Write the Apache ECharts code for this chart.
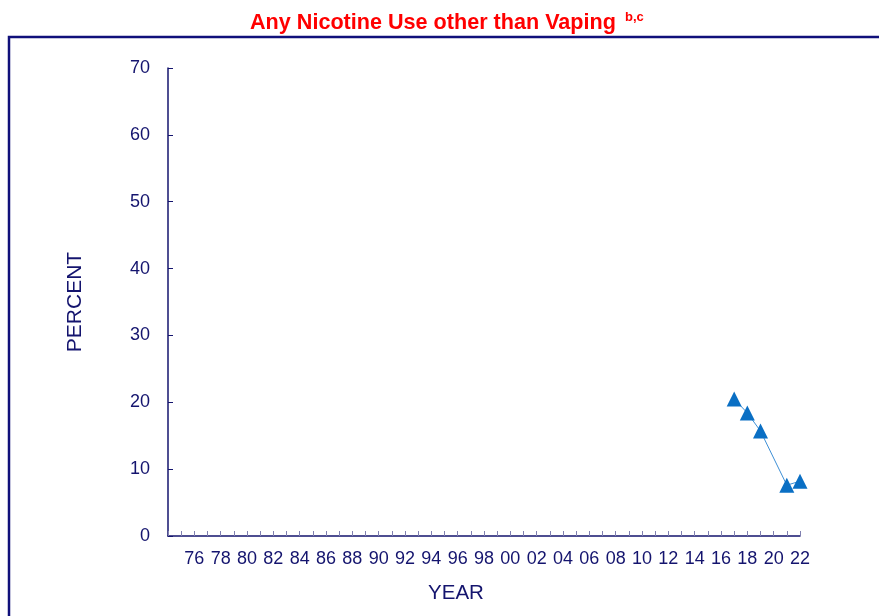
<!DOCTYPE html>
<html>
<head>
<meta charset="utf-8">
<script src="https://cdn.jsdelivr.net/npm/echarts@6/dist/echarts.min.js"></script>
<style>
  html, body { margin: 0; padding: 0; background: #fff; }
  #chart { width: 879px; height: 616px; }
</style>
</head>
<body>
<div id="chart"></div>
<script>
var years = [2017, 2018, 2019, 2021, 2022];
var percents = [20.5, 18.4, 15.7, 7.6, 8.2];
var yTicks = [0, 10, 20, 30, 40, 50, 60, 70];

var navy = '#14146e';
var chart = echarts.init(document.getElementById('chart'));

var points = years.map(function (y, i) { return [y, percents[i]]; });

var option = {
  backgroundColor: '#fff',
  textStyle: { fontFamily: 'Liberation Sans, Arial, sans-serif' },
  title: {
    text: '{t|Any Nicotine Use other than Vaping}{s|b,c}',
    left: 245,
    top: 6,
    textStyle: {
      rich: {
        t: { fontSize: 21.6, fontWeight: 'bold', color: '#ff0000', fontFamily: 'Liberation Sans' },
        s: { fontSize: 13, fontWeight: 'bold', color: '#ff0000', fontFamily: 'Liberation Sans', verticalAlign: 'top', padding: [0, 0, 12, 9] }
      }
    }
  },
  graphic: [{
    type: 'rect',
    shape: { x: 9, y: 37, width: 900, height: 620 },
    style: { fill: 'none', stroke: '#10107a', lineWidth: 2.5 },
    silent: true
  }],
  grid: { left: 168, right: 79, top: 68, bottom: 80 },
  xAxis: {
    type: 'value',
    min: 1974,
    max: 2022,
    interval: 1,
    name: 'YEAR',
    nameLocation: 'middle',
    nameGap: 47,
    nameTextStyle: { fontSize: 20.5, color: navy, padding: [0, 56, 0, 0] },
    axisLine: { lineStyle: { color: navy, width: 1.5 } },
    axisTick: { inside: true, length: 5, lineStyle: { color: '#8080b0' } },
    splitLine: { show: false },
    axisLabel: {
      color: navy,
      fontSize: 18,
      margin: 14,
      formatter: function (v) {
        if (v % 2 !== 0 || v === 1974) return '';
        return String(v % 100).padStart(2, '0');
      }
    }
  },
  yAxis: {
    type: 'value',
    min: yTicks[0],
    max: yTicks[yTicks.length - 1],
    interval: 10,
    name: 'PERCENT',
    nameLocation: 'middle',
    nameGap: 82,
    nameTextStyle: { fontSize: 21, color: navy },
    axisLine: { show: true, lineStyle: { color: navy, width: 1.5 } },
    axisTick: { show: true, inside: true, length: 5, lineStyle: { color: navy } },
    splitLine: { show: false },
    axisLabel: { color: navy, fontSize: 18, margin: 18 }
  },
  series: [{
    type: 'line',
    data: points,
    symbol: 'triangle',
    symbolSize: 15,
    itemStyle: { color: '#0a6fc4' },
    lineStyle: { color: '#3d8fd6', width: 1 },
    animation: false
  }]
};

chart.setOption(option);
</script>
</body>
</html>
